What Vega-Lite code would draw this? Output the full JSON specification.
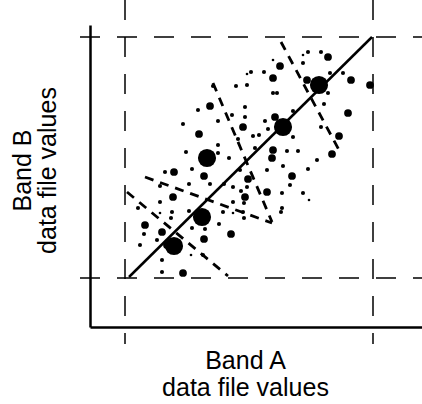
{
  "$schema": "https://vega.github.io/schema/vega-lite/v6.json",
  "autosize": "none",
  "width": 332,
  "height": 302,
  "padding": {"left": 90, "top": 25, "right": 0, "bottom": 77},
  "background": "white",
  "config": {"view": {"stroke": null}},
  "datasets": {
    "frame": [
      {"x": 125, "y": 0, "x2": 125, "y2": 344},
      {"x": 373, "y": 0, "x2": 373, "y2": 344},
      {"x": 80, "y": 37, "x2": 422, "y2": 37},
      {"x": 80, "y": 278, "x2": 422, "y2": 278}
    ],
    "bounds": [
      {"x": 127, "y": 192, "x2": 228, "y2": 276},
      {"x": 145, "y": 177, "x2": 272, "y2": 223},
      {"x": 213, "y": 83, "x2": 272, "y2": 222},
      {"x": 281, "y": 42, "x2": 339, "y2": 150}
    ],
    "diag": [
      {"x": 129, "y": 277, "x2": 372, "y2": 37}
    ],
    "pts": [
      {"x": 174, "y": 246, "c": "big"},
      {"x": 202, "y": 217, "c": "big"},
      {"x": 207, "y": 158, "c": "big"},
      {"x": 283, "y": 127, "c": "big"},
      {"x": 319, "y": 85, "c": "big"},
      {"x": 183, "y": 273, "c": "medium"},
      {"x": 145, "y": 225, "c": "medium"},
      {"x": 162, "y": 232, "c": "medium"},
      {"x": 231, "y": 234, "c": "medium"},
      {"x": 167, "y": 245, "c": "medium"},
      {"x": 204, "y": 239, "c": "medium"},
      {"x": 173, "y": 197, "c": "medium"},
      {"x": 174, "y": 172, "c": "medium"},
      {"x": 204, "y": 176, "c": "medium"},
      {"x": 210, "y": 106, "c": "medium"},
      {"x": 199, "y": 134, "c": "medium"},
      {"x": 243, "y": 127, "c": "medium"},
      {"x": 275, "y": 117, "c": "medium"},
      {"x": 273, "y": 78, "c": "medium"},
      {"x": 280, "y": 66, "c": "medium"},
      {"x": 307, "y": 80, "c": "medium"},
      {"x": 328, "y": 57, "c": "medium"},
      {"x": 351, "y": 80, "c": "medium"},
      {"x": 370, "y": 85, "c": "medium"},
      {"x": 348, "y": 113, "c": "medium"},
      {"x": 339, "y": 136, "c": "medium"},
      {"x": 332, "y": 154, "c": "medium"},
      {"x": 272, "y": 158, "c": "medium"},
      {"x": 273, "y": 150, "c": "medium"},
      {"x": 267, "y": 192, "c": "medium"},
      {"x": 245, "y": 197, "c": "medium"},
      {"x": 248, "y": 179, "c": "medium"},
      {"x": 292, "y": 176, "c": "medium"},
      {"x": 140, "y": 245, "c": "small"},
      {"x": 162, "y": 272, "c": "small"},
      {"x": 157, "y": 240, "c": "small"},
      {"x": 144, "y": 234, "c": "small"},
      {"x": 138, "y": 208, "c": "small"},
      {"x": 160, "y": 202, "c": "small"},
      {"x": 171, "y": 218, "c": "small"},
      {"x": 172, "y": 212, "c": "small"},
      {"x": 189, "y": 211, "c": "small"},
      {"x": 189, "y": 184, "c": "small"},
      {"x": 192, "y": 169, "c": "small"},
      {"x": 165, "y": 172, "c": "small"},
      {"x": 160, "y": 186, "c": "small"},
      {"x": 160, "y": 213, "c": "tiny"},
      {"x": 191, "y": 255, "c": "tiny"},
      {"x": 203, "y": 255, "c": "small"},
      {"x": 162, "y": 260, "c": "small"},
      {"x": 192, "y": 228, "c": "small"},
      {"x": 205, "y": 229, "c": "small"},
      {"x": 210, "y": 184, "c": "small"},
      {"x": 218, "y": 153, "c": "small"},
      {"x": 218, "y": 145, "c": "small"},
      {"x": 229, "y": 158, "c": "small"},
      {"x": 219, "y": 224, "c": "small"},
      {"x": 223, "y": 212, "c": "small"},
      {"x": 233, "y": 202, "c": "small"},
      {"x": 233, "y": 213, "c": "tiny"},
      {"x": 244, "y": 218, "c": "small"},
      {"x": 243, "y": 212, "c": "small"},
      {"x": 241, "y": 191, "c": "small"},
      {"x": 233, "y": 187, "c": "small"},
      {"x": 224, "y": 184, "c": "small"},
      {"x": 240, "y": 170, "c": "small"},
      {"x": 244, "y": 203, "c": "small"},
      {"x": 247, "y": 187, "c": "small"},
      {"x": 253, "y": 136, "c": "small"},
      {"x": 259, "y": 135, "c": "small"},
      {"x": 255, "y": 148, "c": "small"},
      {"x": 238, "y": 139, "c": "small"},
      {"x": 283, "y": 166, "c": "small"},
      {"x": 287, "y": 151, "c": "small"},
      {"x": 298, "y": 151, "c": "small"},
      {"x": 267, "y": 170, "c": "small"},
      {"x": 282, "y": 193, "c": "small"},
      {"x": 282, "y": 208, "c": "small"},
      {"x": 281, "y": 212, "c": "small"},
      {"x": 290, "y": 185, "c": "small"},
      {"x": 303, "y": 193, "c": "small"},
      {"x": 309, "y": 200, "c": "tiny"},
      {"x": 308, "y": 169, "c": "small"},
      {"x": 317, "y": 160, "c": "small"},
      {"x": 321, "y": 127, "c": "small"},
      {"x": 324, "y": 104, "c": "small"},
      {"x": 328, "y": 93, "c": "small"},
      {"x": 321, "y": 52, "c": "small"},
      {"x": 308, "y": 52, "c": "small"},
      {"x": 303, "y": 55, "c": "tiny"},
      {"x": 303, "y": 63, "c": "small"},
      {"x": 330, "y": 73, "c": "small"},
      {"x": 343, "y": 73, "c": "small"},
      {"x": 264, "y": 72, "c": "small"},
      {"x": 251, "y": 72, "c": "small"},
      {"x": 247, "y": 74, "c": "tiny"},
      {"x": 247, "y": 85, "c": "small"},
      {"x": 236, "y": 86, "c": "small"},
      {"x": 273, "y": 93, "c": "small"},
      {"x": 277, "y": 93, "c": "small"},
      {"x": 245, "y": 107, "c": "small"},
      {"x": 245, "y": 117, "c": "small"},
      {"x": 232, "y": 115, "c": "small"},
      {"x": 218, "y": 121, "c": "small"},
      {"x": 273, "y": 60, "c": "tiny"},
      {"x": 213, "y": 86, "c": "small"},
      {"x": 198, "y": 110, "c": "small"},
      {"x": 183, "y": 124, "c": "small"},
      {"x": 186, "y": 152, "c": "small"},
      {"x": 265, "y": 121, "c": "small"},
      {"x": 268, "y": 129, "c": "small"},
      {"x": 293, "y": 111, "c": "small"},
      {"x": 293, "y": 137, "c": "small"}
    ]
  },
  "encoding": {
    "x": {
      "field": "x", "type": "quantitative",
      "scale": {"domain": [90, 422], "nice": false, "zero": false},
      "axis": {
        "domain": true, "domainColor": "black", "domainWidth": 2.5,
        "ticks": false, "labels": false, "grid": false,
        "title": ["Band A", "data file values"],
        "titleFont": "Liberation Sans", "titleFontSize": 25, "titleFontWeight": "normal",
        "titleColor": "black", "titleLineHeight": 27,
        "titleAlign": "center", "titleBaseline": "alphabetic",
        "titleX": 155, "titleY": 41
      }
    },
    "y": {
      "field": "y", "type": "quantitative",
      "scale": {"domain": [327, 25], "nice": false, "zero": false},
      "axis": {
        "domain": true, "domainColor": "black", "domainWidth": 2.5,
        "ticks": false, "labels": false, "grid": false,
        "title": ["Band B", "data file values"],
        "titleFont": "Liberation Sans", "titleFontSize": 25, "titleFontWeight": "normal",
        "titleColor": "black", "titleLineHeight": 25,
        "titleAlign": "center", "titleBaseline": "alphabetic", "titleAngle": 270,
        "titleX": -60, "titleY": 145
      }
    }
  },
  "layer": [
    {
      "data": {"name": "frame"},
      "mark": {"type": "rule", "color": "black", "strokeWidth": 1.5, "strokeDash": [20, 17]},
      "encoding": {"x2": {"field": "x2"}, "y2": {"field": "y2"}}
    },
    {
      "data": {"name": "bounds"},
      "mark": {"type": "rule", "color": "black", "strokeWidth": 2.8, "strokeDash": [9, 7]},
      "encoding": {"x2": {"field": "x2"}, "y2": {"field": "y2"}}
    },
    {
      "data": {"name": "diag"},
      "mark": {"type": "rule", "color": "black", "strokeWidth": 2.5},
      "encoding": {"x2": {"field": "x2"}, "y2": {"field": "y2"}}
    },
    {
      "data": {"name": "pts"},
      "mark": {"type": "circle", "color": "black", "opacity": 1},
      "encoding": {
        "size": {
          "field": "c", "type": "nominal",
          "scale": {"type": "ordinal", "domain": ["big", "medium", "small", "tiny"], "range": [330, 60, 17, 7]},
          "legend": null
        }
      }
    }
  ]
}
